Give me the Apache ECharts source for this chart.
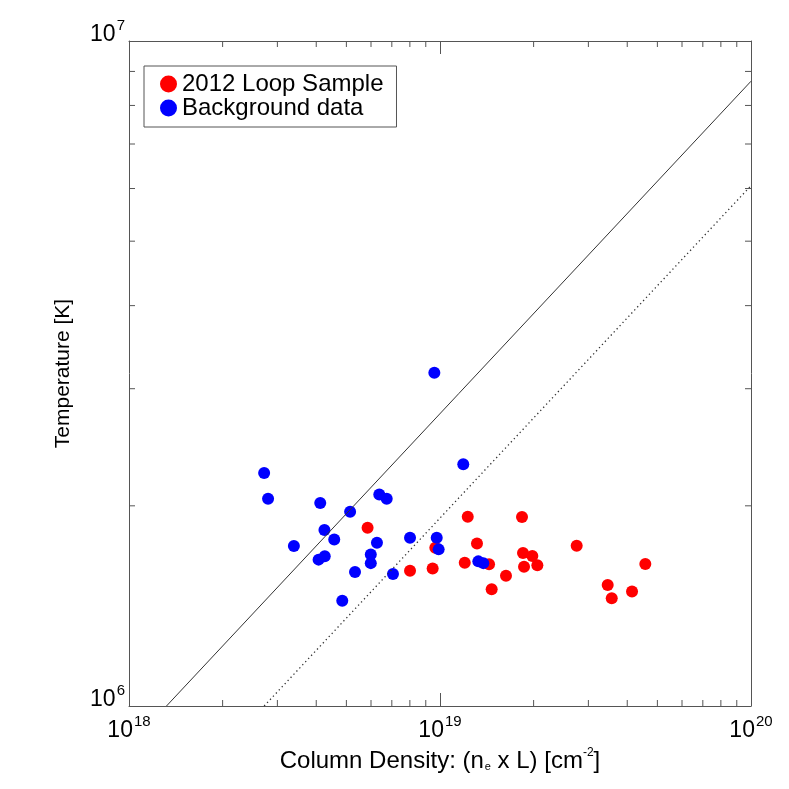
<!DOCTYPE html>
<html>
<head>
<meta charset="utf-8">
<script src="https://cdn.jsdelivr.net/npm/echarts@6/dist/echarts.min.js"></script>
<style>
  html, body { margin: 0; padding: 0; background: #fff; }
  #chart { width: 789px; height: 789px; }
</style>
</head>
<body>
<div id="chart"></div>
<script>
// column density [cm^-2] vs temperature [K]
const loopDensity = [5.85e18, 8.01e18, 9.47e18, 9.66e18, 1.228e19, 1.315e19, 1.201e19, 1.438e19, 1.630e19, 1.466e19,
  1.835e19, 1.849e19, 1.981e19, 1.863e19, 2.056e19, 2.751e19, 3.461e19, 3.566e19, 4.144e19, 4.573e19]
const loopTemp = [1.854e6, 1.597e6, 1.610e6, 1.730e6, 1.926e6, 1.756e6, 1.642e6, 1.634e6, 1.570e6, 1.498e6,
  1.924e6, 1.699e6, 1.681e6, 1.620e6, 1.628e6, 1.742e6, 1.520e6, 1.452e6, 1.486e6, 1.635e6]

const bgDensity = [2.72e18, 2.80e18, 3.39e18, 4.12e18, 4.25e18, 4.07e18, 4.26e18, 4.57e18, 5.14e18, 4.85e18,
  5.33e18, 5.99e18, 5.99e18, 6.27e18, 6.38e18, 6.74e18, 7.06e18, 8.01e18, 9.59e18, 9.76e18,
  9.90e18, 1.188e19, 1.328e19, 1.378e19]
const bgTemp = [2.24e6, 2.05e6, 1.74e6, 2.02e6, 1.84e6, 1.66e6, 1.68e6, 1.78e6, 1.96e6, 1.44e6,
  1.59e6, 1.69e6, 1.64e6, 1.76e6, 2.08e6, 2.05e6, 1.58e6, 1.79e6, 3.17e6, 1.79e6,
  1.72e6, 2.31e6, 1.65e6, 1.64e6]

// reference lines (T ~ N^0.5), endpoints
const solidN = [1.32e18, 1e20]
const solidT = [1e6, 8.70e6]
const dottedN = [2.72e18, 1e20]
const dottedT = [1e6, 6.06e6]

const N_MIN = 1e18, N_MAX = 1e20
const T_MIN = 1e6, T_MAX = 1e7
const xMinorTicks = [2e18, 3e18, 4e18, 5e18, 6e18, 7e18, 8e18, 9e18,
  2e19, 3e19, 4e19, 5e19, 6e19, 7e19, 8e19, 9e19]
const yMinorTicks = [2e6, 3e6, 4e6, 5e6, 6e6, 7e6, 8e6, 9e6]

const FONT = 'Liberation Sans'
const FRAME = '#555'
const MINOR_LEN = 6

const zip = (a, b) => a.map((v, i) => [v, b[i]])
const powLabel = v => '{b|10}{s|' + Math.round(Math.log10(v)) + '}'
const powRich = {
  b: { fontSize: 23, fontFamily: FONT, color: '#000', lineHeight: 28, verticalAlign: 'bottom' },
  s: { fontSize: 15, fontFamily: FONT, color: '#000', lineHeight: 28, verticalAlign: 'top', padding: [0, 0, 0, 1] }
}

function tickLine(x1, y1, x2, y2) {
  return { type: 'line', shape: { x1, y1, x2, y2 }, style: { stroke: FRAME, lineWidth: 1 } }
}

function renderXMinor(params, api) {
  const b = api.coord([api.value(0), T_MIN])
  const t = api.coord([api.value(0), T_MAX])
  return { type: 'group', children: [
    tickLine(b[0], b[1], b[0], b[1] - MINOR_LEN),
    tickLine(t[0], t[1], t[0], t[1] + MINOR_LEN)
  ] }
}

function renderYMinor(params, api) {
  const l = api.coord([N_MIN, api.value(1)])
  const r = api.coord([N_MAX, api.value(1)])
  return { type: 'group', children: [
    tickLine(l[0], l[1], l[0] + MINOR_LEN, l[1]),
    tickLine(r[0], r[1], r[0] - MINOR_LEN, r[1])
  ] }
}

const frameAxis = {
  type: 'log',
  logBase: 10,
  axisLine: { show: true, lineStyle: { color: FRAME, width: 1 } },
  axisTick: { show: true, inside: true, length: 13, lineStyle: { color: FRAME } },
  splitLine: { show: false }
}

const chart = echarts.init(document.getElementById('chart'))
chart.setOption({
  animation: false,
  backgroundColor: '#fff',
  grid: { left: 129, right: 38, top: 41, bottom: 83 },
  legend: {
    left: 144,
    top: 66,
    orient: 'vertical',
    icon: 'circle',
    itemWidth: 17,
    itemHeight: 17,
    itemGap: 0,
    padding: [6, 13, 7, 16],
    borderColor: FRAME,
    borderWidth: 1,
    data: ['2012 Loop Sample', 'Background data'],
    textStyle: { fontFamily: FONT, fontSize: 24, color: '#000' }
  },
  xAxis: [
    {
      ...frameAxis,
      min: N_MIN,
      max: N_MAX,
      name: '{a|Column Density: (n}{sub|e}{a| x L) [cm}{sup|-2}{a|]}',
      nameLocation: 'middle',
      nameGap: 40,
      nameTextStyle: {
        rich: {
          a: { fontFamily: FONT, fontSize: 24, color: '#000', lineHeight: 26, verticalAlign: 'bottom' },
          sub: { fontFamily: FONT, fontSize: 11, color: '#000', lineHeight: 24, verticalAlign: 'bottom', padding: [0, 0, 0, 1] },
          sup: { fontFamily: FONT, fontSize: 12, color: '#000', lineHeight: 26, verticalAlign: 'top' }
        }
      },
      axisLabel: { formatter: powLabel, rich: powRich, margin: 8 }
    },
    {
      ...frameAxis,
      position: 'top',
      min: N_MIN,
      max: N_MAX,
      axisLabel: { show: false }
    }
  ],
  yAxis: [
    {
      ...frameAxis,
      min: T_MIN,
      max: T_MAX,
      name: 'Temperature [K]',
      nameLocation: 'middle',
      nameGap: 55,
      nameTextStyle: { fontFamily: FONT, fontSize: 21, color: '#000' },
      axisLabel: {
        formatter: powLabel,
        rich: powRich,
        margin: 4,
        verticalAlign: 'middle',
        padding: [0, 0, 18, 0]
      }
    },
    {
      ...frameAxis,
      position: 'right',
      min: T_MIN,
      max: T_MAX,
      axisLabel: { show: false }
    }
  ],
  series: [
    {
      type: 'line',
      data: zip(solidN, solidT),
      symbol: 'none',
      silent: true,
      lineStyle: { color: '#333', width: 1 }
    },
    {
      type: 'line',
      data: zip(dottedN, dottedT),
      symbol: 'none',
      silent: true,
      lineStyle: { color: '#333', width: 1.3, type: [1.3, 3] }
    },
    {
      name: '2012 Loop Sample',
      type: 'scatter',
      data: zip(loopDensity, loopTemp),
      symbolSize: 12,
      itemStyle: { color: '#ff0000', opacity: 1 }
    },
    {
      name: 'Background data',
      type: 'scatter',
      data: zip(bgDensity, bgTemp),
      symbolSize: 12,
      itemStyle: { color: '#0000ff', opacity: 1 }
    },
    {
      type: 'custom',
      silent: true,
      clip: false,
      renderItem: renderXMinor,
      data: xMinorTicks.map(v => [v, T_MIN])
    },
    {
      type: 'custom',
      silent: true,
      clip: false,
      renderItem: renderYMinor,
      data: yMinorTicks.map(v => [N_MIN, v])
    }
  ]
})
</script>
</body>
</html>
